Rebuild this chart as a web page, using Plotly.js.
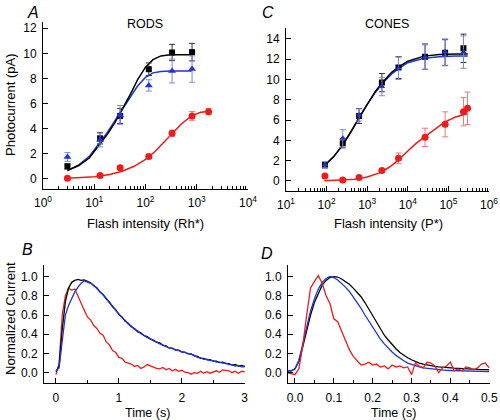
<!DOCTYPE html>
<html>
<head>
<meta charset="utf-8">
<script src="https://cdn.plot.ly/plotly-3.0.1.min.js"></script>
<style>html,body{margin:0;padding:0;background:#fff}#chart{width:500px;height:420px}</style>
</head>
<body>
<div id="chart"></div>
<script>
// ---------- Panel A : RODS ----------
const rodFlash = [3, 13, 32, 116, 330, 810];
const rodBlack = [1.0, 3.24, 5.02, 8.74, 10.07, 10.1];
const rodBlackErr = [0.2, 0.45, 0.6, 0.5, 0.65, 0.7];
const rodBlue = [1.75, 3.1, 5.1, 7.45, 8.6, 8.75];
const rodBlueErr = [0.35, 0.55, 0.75, 0.45, 0.95, 1.05];
const rodRedFlash = [3, 13, 32, 116, 330, 810, 1700];
const rodRed = [0.05, 0.27, 0.9, 1.78, 3.64, 5.02, 5.36];
const rodRedErr = [0.1, 0.1, 0.15, 0.15, 0.25, 0.35, 0.25];
const rodFitX = [3, 5, 8, 12, 18, 25, 35, 50, 70, 100, 140, 200, 300, 500, 800];
const rodFitBlack = [0.66, 1.07, 1.67, 2.6, 3.55, 4.45, 5.5, 6.7, 7.9, 8.9, 9.5, 9.8, 9.9, 9.9, 9.9];
const rodFitBlue = [0.68, 1.12, 1.8, 2.75, 3.7, 4.6, 5.5, 6.5, 7.4, 8.1, 8.45, 8.55, 8.6, 8.6, 8.6];
const rodFitRedX = [3, 6, 10, 20, 35, 60, 100, 150, 220, 330, 500, 800, 1200, 1800];
const rodFitRed = [0.05, 0.11, 0.18, 0.36, 0.61, 1.01, 1.56, 2.15, 2.85, 3.64, 4.38, 5.05, 5.31, 5.39];
const rodTickVals = [1, 10, 100, 1000, 10000];
const rodTickText = ['10<sup>0</sup>', '10<sup>1</sup>', '10<sup>2</sup>', '10<sup>3</sup>', '10<sup>4</sup>'];

// ---------- Panel C : CONES ----------
const coneFlash = [91, 250, 630, 2300, 5900, 26600, 83000, 235000];
const coneBlack = [1.58, 3.71, 6.4, 9.69, 11.17, 12.25, 12.64, 13.07];
const coneBlackErr = [0.3, 0.45, 0.74, 0.9, 1.07, 1.25, 1.28, 1.4];
const coneBlue = [1.6, 4.2, 6.5, 9.3, 11.1, 12.2, 12.7, 12.7];
const coneBlueErr = [0.3, 0.85, 0.6, 0.9, 1.1, 1.2, 1.3, 1.6];
const coneRedFlash = [91, 250, 630, 2300, 5900, 26600, 83000, 235000, 296000];
const coneRed = [0.49, 0.1, 0.33, 1.02, 2.23, 4.3, 5.58, 6.83, 7.16];
const coneRedErr = [0.1, 0.1, 0.1, 0.1, 0.53, 0.9, 1.23, 1.4, 1.6];
const coneFitX = [88, 150, 250, 400, 630, 1000, 1600, 2500, 4000, 6300, 10000, 25000, 60000, 150000, 300000];
const coneFitBlack = [1.5, 2.4, 3.55, 4.85, 6.25, 7.6, 8.85, 9.8, 10.7, 11.3, 11.8, 12.3, 12.45, 12.5, 12.5];
const coneFitBlue = [1.5, 2.4, 3.55, 4.85, 6.2, 7.55, 8.75, 9.7, 10.55, 11.15, 11.65, 12.1, 12.25, 12.3, 12.3];
const coneFitRedX = [88, 200, 500, 1000, 2000, 3500, 6000, 10000, 16000, 26000, 45000, 80000, 150000, 300000];
const coneFitRed = [0.02, 0.07, 0.18, 0.4, 0.8, 1.35, 2.1, 2.95, 3.7, 4.35, 5.1, 5.8, 6.3, 6.65];
const coneTickVals = [10, 100, 1000, 10000, 100000, 1000000];
const coneTickText = ['10<sup>1</sup>', '10<sup>2</sup>', '10<sup>3</sup>', '10<sup>4</sup>', '10<sup>5</sup>', '10<sup>6</sup>'];

// ---------- Panel B : rod responses (t0 = 0 s, step 0.05 s) ----------
const rodTimeStart = 0, rodTimeStep = 0.05;
const rodRespBlack = [0.01, 0.07, 0.45, 0.74, 0.88, 0.94, 0.96, 0.97, 0.96, 0.965, 0.95, 0.935, 0.905, 0.885, 0.84, 0.815, 0.765, 0.735, 0.685, 0.655,
  0.605, 0.58, 0.535, 0.515, 0.475, 0.46, 0.425, 0.415, 0.385, 0.375, 0.35, 0.34, 0.315, 0.31, 0.285, 0.28, 0.255, 0.255, 0.235, 0.235,
  0.215, 0.215, 0.195, 0.195, 0.175, 0.17, 0.15, 0.15, 0.135, 0.135, 0.12, 0.12, 0.105, 0.11, 0.095, 0.095, 0.08, 0.085, 0.07, 0.075, 0.065];
const rodRespBlue = [0.02, 0.05, 0.33, 0.6, 0.7, 0.78, 0.84, 0.89, 0.93, 0.955, 0.945, 0.93, 0.91, 0.875, 0.85, 0.805, 0.775, 0.725, 0.695, 0.645,
  0.615, 0.57, 0.545, 0.505, 0.485, 0.45, 0.435, 0.405, 0.39, 0.365, 0.355, 0.33, 0.32, 0.3, 0.29, 0.27, 0.26, 0.245, 0.24, 0.225,
  0.22, 0.205, 0.2, 0.185, 0.18, 0.16, 0.155, 0.14, 0.14, 0.125, 0.125, 0.11, 0.11, 0.1, 0.1, 0.085, 0.085, 0.07, 0.075, 0.06, 0.06];
const rodRespRed = [-0.02, 0.1, 0.6, 0.8, 0.88, 0.86, 0.87, 0.79, 0.72, 0.65, 0.58, 0.55, 0.49, 0.46, 0.41, 0.39, 0.32, 0.29, 0.23, 0.21,
  0.16, 0.15, 0.11, 0.1, 0.09, 0.065, 0.075, 0.045, 0.06, 0.085, 0.07, 0.06, 0.045, 0.04, 0.055, 0.03, 0.045, 0.02, 0.035, 0.015,
  0.025, 0.005, 0.0, -0.015, 0.0, -0.005, 0.015, -0.005, 0.01, -0.005, 0.01, 0.02, 0.005, 0.03, 0.025, 0.02, 0.0, 0.015, -0.005, 0.015, 0.01];

// ---------- Panel D : cone responses (t0 = -0.02 s, step 0.01 s) ----------
const coneTimeStart = -0.02, coneTimeStep = 0.01;
const coneRespBlack = [0.02, 0.02, 0.04, 0.12, 0.27, 0.45, 0.6, 0.73, 0.83, 0.91, 0.96, 0.99, 1.0, 0.995, 0.975, 0.95, 0.92, 0.88, 0.84, 0.79,
  0.73, 0.66, 0.59, 0.52, 0.45, 0.39, 0.34, 0.29, 0.25, 0.21, 0.18, 0.155, 0.135, 0.115, 0.1, 0.09, 0.08, 0.07, 0.065, 0.06,
  0.055, 0.05, 0.05, 0.047, 0.045, 0.042, 0.04, 0.038, 0.036, 0.034, 0.033, 0.032, 0.03];
const coneRespBlue = [0.02, 0.02, 0.04, 0.13, 0.3, 0.48, 0.64, 0.77, 0.87, 0.94, 0.98, 1.0, 0.99, 0.965, 0.93, 0.89, 0.845, 0.79, 0.73, 0.67,
  0.6, 0.535, 0.47, 0.41, 0.35, 0.3, 0.255, 0.215, 0.18, 0.15, 0.125, 0.1, 0.085, 0.07, 0.06, 0.05, 0.045, 0.04, 0.035, 0.03,
  0.028, 0.025, 0.023, 0.022, 0.02, 0.02, 0.018, 0.017, 0.016, 0.015, 0.014, 0.013, 0.012];
const coneRespRed = [0.0, -0.01, -0.02, 0.04, 0.28, 0.6, 0.88, 0.95, 1.01, 0.93, 0.8, 0.72, 0.56, 0.53, 0.43, 0.33, 0.24, 0.17, 0.12, 0.08,
  0.09, 0.11, 0.08, 0.09, 0.06, 0.07, 0.04, 0.08, 0.06, 0.07, 0.05, 0.06, -0.02, 0.1, 0.07, 0.05, 0.11, 0.1, 0.07, 0.0,
  0.05, 0.07, 0.11, 0.02, 0.04, 0.02, 0.06, 0.05, 0.03, 0.05, 0.09, 0.1, 0.05];

// ---------- styling ----------
const BLACK = '#000000', BLUE = '#1f35d8', RED = '#ee1b1b';
const BLUE_ERR = '#7d88e8', RED_ERR = '#f27a7a', BLACK_ERR = '#333333';
const FONT = 'Liberation Sans, Arial, Helvetica, sans-serif';

function line(x, y, color, xa, ya, w) {
  return {x: x, y: y, mode: 'lines', line: {color: color, width: w || 1.5}, xaxis: xa, yaxis: ya, hoverinfo: 'skip'};
}
function trace(y, t0, dt, color, xa, ya) {
  return {y: y, x0: t0, dx: dt, mode: 'lines', line: {color: color, width: 1.3}, xaxis: xa, yaxis: ya, hoverinfo: 'skip'};
}
function pts(x, y, err, color, errColor, symbol, size, xa, ya) {
  return {x: x, y: y, mode: 'markers', xaxis: xa, yaxis: ya,
    marker: {color: color, symbol: symbol, size: size, line: {width: 0}},
    error_y: {type: 'data', array: err, visible: true, color: errColor, thickness: 1, width: 3}};
}

const data = [
  line(rodFitRedX, rodFitRed, RED, 'x', 'y'),
  line(rodFitX, rodFitBlue, BLUE, 'x', 'y'),
  line(rodFitX, rodFitBlack, BLACK, 'x', 'y'),
  pts(rodRedFlash, rodRed, rodRedErr, RED, RED_ERR, 'circle', 7, 'x', 'y'),
  pts(rodFlash, rodBlack, rodBlackErr, BLACK, BLACK_ERR, 'square', 6, 'x', 'y'),
  pts(rodFlash, rodBlue, rodBlueErr, BLUE, BLUE_ERR, 'triangle-up', 7, 'x', 'y'),

  line(coneFitRedX, coneFitRed, RED, 'x3', 'y3'),
  line(coneFitX, coneFitBlue, BLUE, 'x3', 'y3'),
  line(coneFitX, coneFitBlack, BLACK, 'x3', 'y3'),
  pts(coneRedFlash, coneRed, coneRedErr, RED, RED_ERR, 'circle', 7, 'x3', 'y3'),
  pts(coneFlash, coneBlack, coneBlackErr, BLACK, BLACK_ERR, 'square', 6, 'x3', 'y3'),
  pts(coneFlash, coneBlue, coneBlueErr, BLUE, BLUE_ERR, 'triangle-up', 6, 'x3', 'y3'),

  trace(rodRespRed, rodTimeStart, rodTimeStep, RED, 'x2', 'y2'),
  trace(rodRespBlack, rodTimeStart, rodTimeStep, BLACK, 'x2', 'y2'),
  trace(rodRespBlue, rodTimeStart, rodTimeStep, BLUE, 'x2', 'y2'),

  trace(coneRespBlack, coneTimeStart, coneTimeStep, BLACK, 'x4', 'y4'),
  trace(coneRespBlue, coneTimeStart, coneTimeStep, BLUE, 'x4', 'y4'),
  trace(coneRespRed, coneTimeStart, coneTimeStep, RED, 'x4', 'y4')
];

function ax(extra) {
  return Object.assign({
    showline: true, linecolor: BLACK, linewidth: 1, ticks: 'inside', ticklen: 5, tickwidth: 1,
    tickcolor: BLACK, showgrid: false, zeroline: false, mirror: false, fixedrange: true,
    tickfont: {size: 12, color: BLACK, family: FONT}, ticklabelstandoff: 3
  }, extra);
}
const logMinor = {ticks: 'inside', ticklen: 3, tickcolor: BLACK, tickwidth: 1, dtick: 'D1', showgrid: false};

function ann(text, x, y, opts) {
  return Object.assign({text: text, x: x / 500, y: 1 - y / 420, xref: 'paper', yref: 'paper',
    showarrow: false, xanchor: 'center', yanchor: 'middle',
    font: {size: 13, color: BLACK, family: FONT}}, opts || {});
}
const letterFont = {size: 16, color: BLACK, family: FONT};
const titleFont = {size: 12.5, color: BLACK, family: FONT};

const layout = {
  width: 500, height: 420, margin: {l: 0, r: 0, t: 0, b: 0},
  paper_bgcolor: '#fff', plot_bgcolor: 'rgba(0,0,0,0)', showlegend: false,
  font: {family: FONT, size: 12, color: BLACK},
  xaxis: ax({domain: [0.086, 0.496], anchor: 'y', type: 'log', range: [0, 4],
    tickmode: 'array', tickvals: rodTickVals, ticktext: rodTickText, minor: logMinor}),
  yaxis: ax({domain: [0.55, 0.9476], anchor: 'x', range: [-0.8, 12.5], dtick: 2, tick0: 0}),
  xaxis3: ax({domain: [0.572, 0.978], anchor: 'y3', type: 'log', range: [1, 6],
    tickmode: 'array', tickvals: coneTickVals, ticktext: coneTickText, minor: logMinor}),
  yaxis3: ax({domain: [0.5464, 0.9333], anchor: 'x3', range: [-0.94, 15.07], dtick: 2, tick0: 0}),
  xaxis2: ax({domain: [0.088, 0.49], anchor: 'y2', range: [-0.19, 3.005], dtick: 1, tick0: 0,
    minor: {ticks: 'inside', ticklen: 3, tickcolor: BLACK, dtick: 0.5, showgrid: false}}),
  yaxis2: ax({domain: [0.0874, 0.369], anchor: 'x2', range: [-0.11, 1.12], dtick: 0.2, tick0: 0, tickformat: '.1f'}),
  xaxis4: ax({domain: [0.576, 0.98], anchor: 'y4', range: [-0.018, 0.502], dtick: 0.1, tick0: 0, tickformat: '.1f',
    minor: {ticks: 'inside', ticklen: 3, tickcolor: BLACK, dtick: 0.05, showgrid: false}}),
  yaxis4: ax({domain: [0.0874, 0.369], anchor: 'x4', range: [-0.11, 1.12], dtick: 0.2, tick0: 0, tickformat: '.1f'}),
  annotations: [
    ann('<i>A</i>', 33, 12, {font: letterFont}),
    ann('<i>C</i>', 268, 12, {font: letterFont}),
    ann('<i>B</i>', 27, 249, {font: letterFont}),
    ann('<i>D</i>', 267, 253, {font: letterFont}),
    ann('RODS', 145, 24, {font: titleFont}),
    ann('CONES', 387, 24, {font: titleFont}),
    ann('Photocurrent (pA)', 10, 105, {textangle: -90}),
    ann('Flash intensity (Rh*)', 145, 223),
    ann('Flash intensity (P*)', 388, 223),
    ann('Normalized Current', 10, 319, {textangle: -90}),
    ann('Time (s)', 147, 413, {font: titleFont}),
    ann('Time (s)', 393, 413, {font: titleFont})
  ]
};

Plotly.newPlot('chart', data, layout, {staticPlot: true, displayModeBar: false});
</script>
</body>
</html>
